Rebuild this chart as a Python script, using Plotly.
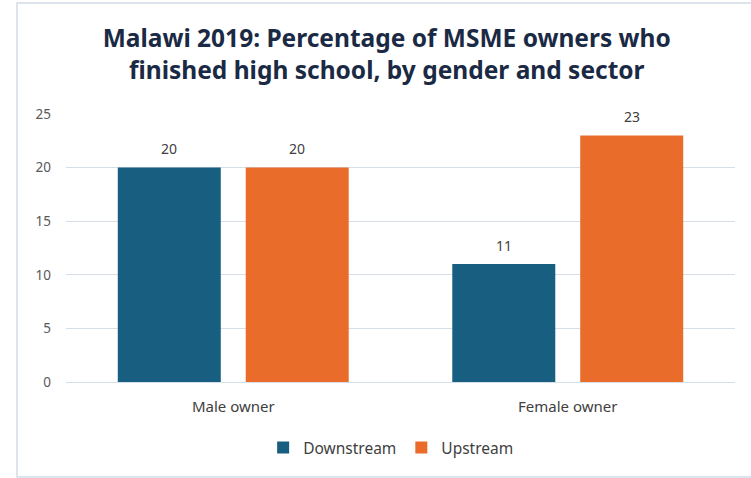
import plotly.graph_objects as go

# Chart data
owners = ["Male owner", "Female owner"]
downstream = [20, 11]
upstream = [20, 23]
series_names = ["Downstream", "Upstream"]

colors = {"Downstream": "#185e81", "Upstream": "#ea6c2b"}
label_font = dict(family="Noto Sans, sans-serif", size=14, color="#404040")

W, H = 751, 478
M = dict(l=66, r=16, t=114, b=96)
BARGAP = 0.235
BARGROUPGAP = 0.195

fig = go.Figure()
for name, vals in zip(series_names, [downstream, upstream]):
    fig.add_trace(go.Bar(
        x=owners, y=vals, name=name,
        marker=dict(color=colors[name], line=dict(width=0)),
        hoverinfo="x+y+name",
    ))

# value labels above each bar, positioned from the grouped-bar geometry
n_series = 2
slot = (1 - BARGAP) / n_series
for s, vals in enumerate([downstream, upstream]):
    offset = -(1 - BARGAP) / 2 + slot * (s + 0.5)
    for i, v in enumerate(vals):
        fig.add_annotation(
            x=i + offset, y=v, xref="x", yref="y",
            text=str(v), showarrow=False, yanchor="middle", yshift=19,
            font=label_font,
        )

# outer frame of the chart area
pw = W - M["l"] - M["r"]
ph = H - M["t"] - M["b"]
fig.add_shape(
    type="rect", xref="paper", yref="paper", layer="below",
    x0=(17 - M["l"]) / pw, x1=(W + 5 - M["l"]) / pw,
    y0=(H - M["b"] - 477) / ph, y1=(H - M["b"] - 3) / ph,
    line=dict(color="#d3dce6", width=1.5), fillcolor="rgba(0,0,0,0)",
)

fig.update_layout(
    width=W, height=H, margin=M,
    paper_bgcolor="white", plot_bgcolor="white",
    barmode="group", bargap=BARGAP, bargroupgap=BARGROUPGAP,
    title=dict(
        text="Malawi 2019: Percentage of MSME owners who<br>finished high school, by gender and sector",
        x=0.515, xanchor="center", y=0.902, yanchor="top",
        font=dict(family="Noto Sans, sans-serif", size=24.5, color="#1b2a44", weight="bold"),
    ),
    legend=dict(
        orientation="h", x=0.486, xanchor="center", y=-0.246, yanchor="middle",
        font=dict(family="Noto Sans, sans-serif", size=15.5, color="#404040"),
        itemwidth=30, bgcolor="rgba(0,0,0,0)",
    ),
    xaxis=dict(
        showgrid=False, showline=False, ticks="",
        tickfont=dict(family="Noto Sans, sans-serif", size=15, color="#404040"),
        ticklabelstandoff=14,
    ),
    yaxis=dict(
        range=[0, 25], dtick=5, showgrid=True, gridcolor="#d6dee8", gridwidth=1,
        zeroline=True, zerolinecolor="#d6dee8", zerolinewidth=1,
        showline=False, ticks="",
        tickfont=dict(family="Noto Sans, sans-serif", size=13.5, color="#595959"),
        ticklabelstandoff=14,
    ),
)

fig.write_html("out.html")
